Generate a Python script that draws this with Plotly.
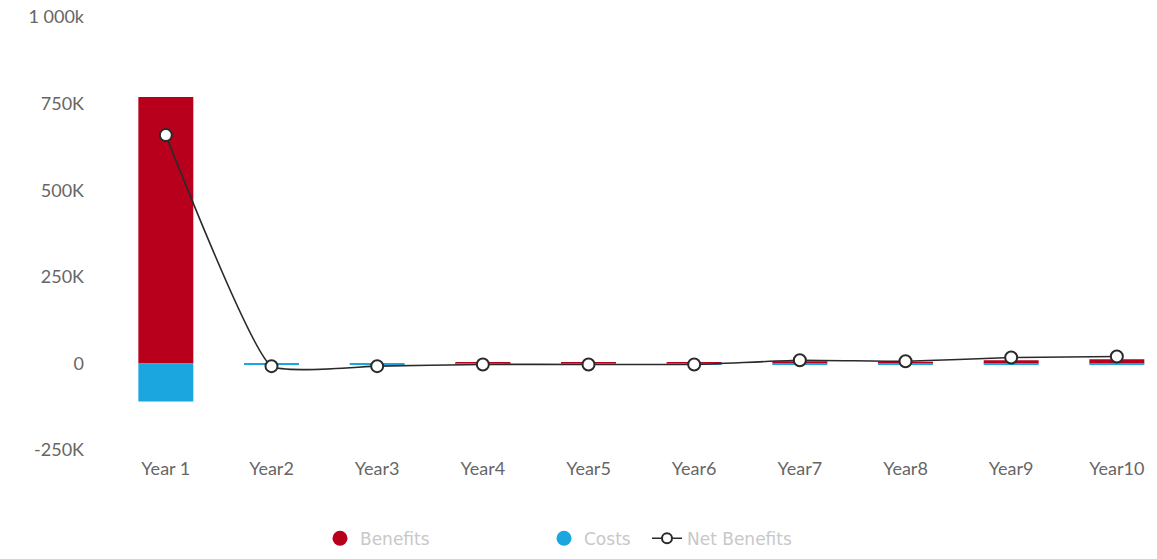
import plotly.graph_objects as go

years = ["Year1", "Year2", "Year3", "Year4", "Year5", "Year6", "Year7", "Year8", "Year9", "Year10"]
year_labels = ["Year 1", "Year2", "Year3", "Year4", "Year5", "Year6", "Year7", "Year8", "Year9", "Year10"]
benefits = [769000, 0, 0, 4000, 4000, 4000, 6000, 5000, 9000, 12000]
costs = [-110000, -3000, -2000, -3000, -3000, -3000, -2000, -2000, -2000, -2000]
net_benefits = [659000, -8000, -8000, -3000, -3000, -3000, 9000, 6000, 17000, 20000]

y_tickvals = [-250000, 0, 250000, 500000, 750000, 1000000]
y_ticktext = ["-250K", "0", "250K", "500K", "750K", "1 000k"]

RED = "#B8001C"
BLUE = "#1BA6E0"
LINE = "#2a2a2a"

fig = go.Figure()
fig.add_trace(go.Bar(x=years, y=benefits, name="Benefits", marker=dict(color=RED, line=dict(width=0)),
                     showlegend=False))
fig.add_trace(go.Bar(x=years, y=costs, name="Costs", marker=dict(color=BLUE, line=dict(width=0)),
                     showlegend=False))
fig.add_trace(go.Scatter(x=years, y=net_benefits, name="Net Benefits", mode="lines+markers",
                         line=dict(color=LINE, width=1.6, shape="spline", smoothing=0.4),
                         marker=dict(size=12, color="white", line=dict(color=LINE, width=2)),
                         showlegend=False))

# legend entries, each placed in its own legend box
def px_to_paper(px):
    return (px - 113) / 1044.0

fig.add_trace(go.Scatter(x=[None], y=[None], mode="markers", name="Benefits",
                         marker=dict(size=15, color=RED), legend="legend"))
fig.add_trace(go.Scatter(x=[None], y=[None], mode="markers", name="Costs",
                         marker=dict(size=15, color=BLUE), legend="legend2"))
fig.add_trace(go.Scatter(x=[None], y=[None], mode="lines+markers", name="Net Benefits",
                         line=dict(color=LINE, width=1.6),
                         marker=dict(size=10, color="white", line=dict(color=LINE, width=2)),
                         legend="legend3"))

leg_common = dict(orientation="h", yanchor="middle", y=-0.205, xanchor="left",
                  font=dict(size=17, color="#c8c8c8", family="DejaVu Sans"),
                  bgcolor="rgba(0,0,0,0)", itemwidth=30)

fig.update_layout(
    width=1157, height=559,
    barmode="relative", bargap=0.48,
    plot_bgcolor="white", paper_bgcolor="white",
    margin=dict(l=113, r=0, t=17, b=109),
    font=dict(family="Lato", color="#666666"),
    showlegend=True,
    legend=dict(x=px_to_paper(320), **leg_common),
    legend2=dict(x=px_to_paper(544), **leg_common),
    legend3=dict(x=px_to_paper(647), **leg_common),
)
fig.update_xaxes(type="category", range=[-0.5, 9.38], showgrid=False, zeroline=False, showline=False,
                 tickvals=years, ticktext=year_labels, tickfont=dict(size=18, color="#666666"),
                 ticks="", ticklabelstandoff=6)
fig.update_yaxes(range=[-250000, 1000000], showgrid=False, zeroline=False, showline=False,
                 tickvals=y_tickvals, ticktext=y_ticktext, tickfont=dict(size=18, color="#666666"),
                 ticks="", ticklabelstandoff=28)

fig.write_html("out.html")
